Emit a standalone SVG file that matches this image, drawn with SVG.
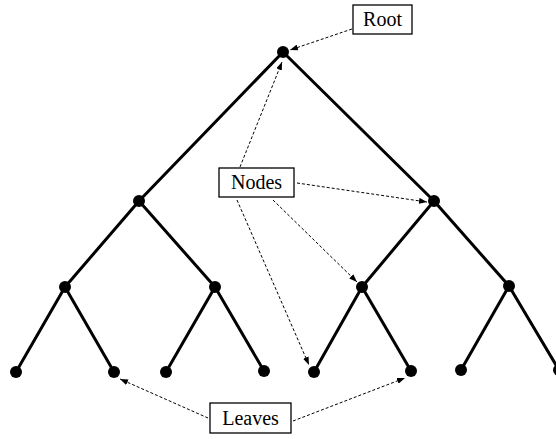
<svg xmlns="http://www.w3.org/2000/svg" width="556" height="439" viewBox="0 0 556 439">
<style>
.edge{stroke:#000;stroke-width:3;fill:none;stroke-linecap:round}
.dot{fill:#000}
.box{fill:#fff;stroke:#000;stroke-width:1.3}
.lbl{font-size:20px;fill:#000;text-anchor:middle}
.ptr{stroke:#000;stroke-width:1;stroke-dasharray:3,2;fill:none;marker-end:url(#ah)}
</style>
<defs>
<marker id="ah" viewBox="0 0 8 6" refX="8" refY="3" markerWidth="8" markerHeight="6" markerUnits="userSpaceOnUse" orient="auto">
<path d="M0,0 L8,3 L0,6 z" fill="#000"/>
</marker>
</defs>
<rect width="556" height="439" fill="#fff"/>
<g id="edges">
<line class="edge" x1="283" y1="52" x2="139" y2="201"/>
<line class="edge" x1="283" y1="52" x2="434" y2="201"/>
<line class="edge" x1="139" y1="201" x2="65" y2="287"/>
<line class="edge" x1="139" y1="201" x2="215" y2="287"/>
<line class="edge" x1="434" y1="201" x2="362" y2="287"/>
<line class="edge" x1="434" y1="201" x2="509" y2="286"/>
<line class="edge" x1="65" y1="287" x2="16" y2="372"/>
<line class="edge" x1="65" y1="287" x2="114" y2="372"/>
<line class="edge" x1="215" y1="287" x2="166" y2="372"/>
<line class="edge" x1="215" y1="287" x2="264" y2="371"/>
<line class="edge" x1="362" y1="287" x2="314" y2="372"/>
<line class="edge" x1="362" y1="287" x2="411" y2="371"/>
<line class="edge" x1="509" y1="286" x2="461" y2="370"/>
<line class="edge" x1="509" y1="286" x2="559" y2="370"/>
</g>
<g id="nodes">
<circle id="n-root" class="dot" cx="283" cy="52" r="6"/>
<circle id="n-l1a" class="dot" cx="139" cy="201" r="6"/>
<circle id="n-l1b" class="dot" cx="434" cy="201" r="6"/>
<circle id="n-l2a" class="dot" cx="65" cy="287" r="6"/>
<circle id="n-l2b" class="dot" cx="215" cy="287" r="6"/>
<circle id="n-l2c" class="dot" cx="362" cy="287" r="6"/>
<circle id="n-l2d" class="dot" cx="509" cy="286" r="6"/>
<circle id="leaf1" class="dot" cx="16" cy="372" r="6"/>
<circle id="leaf2" class="dot" cx="114" cy="372" r="6"/>
<circle id="leaf3" class="dot" cx="166" cy="372" r="6"/>
<circle id="leaf4" class="dot" cx="264" cy="371" r="6"/>
<circle id="leaf5" class="dot" cx="314" cy="372" r="6"/>
<circle id="leaf6" class="dot" cx="411" cy="371" r="6"/>
<circle id="leaf7" class="dot" cx="461" cy="370" r="6"/>
<circle id="leaf8" class="dot" cx="559" cy="370" r="6"/>
</g>
<g id="connectors">
<line class="ptr" x1="352" y1="29" x2="290" y2="50"/>
<line class="ptr" x1="240" y1="167" x2="282" y2="62"/>
<line class="ptr" x1="297" y1="183" x2="427" y2="202"/>
<line class="ptr" x1="273" y1="200" x2="357" y2="282"/>
<line class="ptr" x1="237" y1="200" x2="309" y2="365"/>
<line class="ptr" x1="208" y1="418" x2="120" y2="379"/>
<line class="ptr" x1="293" y1="421" x2="405" y2="378"/>
</g>
<g id="label-root">
<rect class="box" x="353" y="5" width="59" height="29"/>
<text class="lbl" font-family="Liberation Serif, DejaVu Serif, serif" x="382.5" y="26">Root</text>
</g>
<g id="label-nodes">
<rect class="box" x="219" y="168" width="75" height="29"/>
<text class="lbl" font-family="Liberation Serif, DejaVu Serif, serif" x="256.5" y="189">Nodes</text>
</g>
<g id="label-leaves">
<rect class="box" x="210" y="403" width="81" height="30"/>
<text class="lbl" font-family="Liberation Serif, DejaVu Serif, serif" x="250.5" y="425">Leaves</text>
</g>
</svg>
